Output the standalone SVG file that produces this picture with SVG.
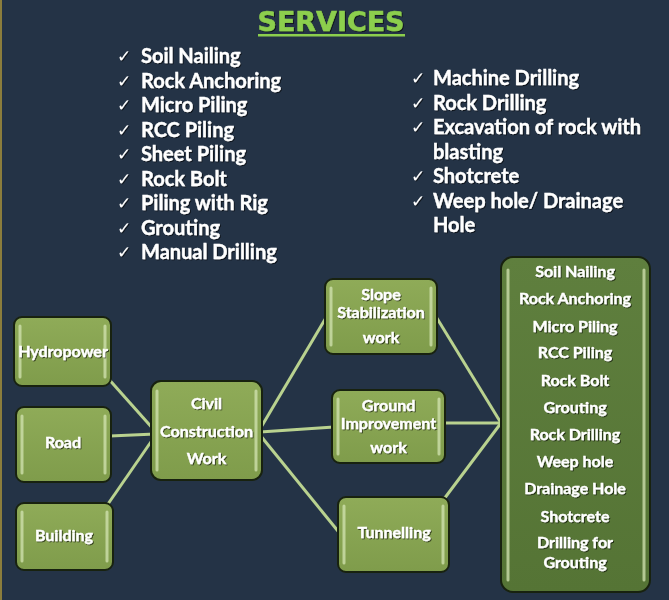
<svg xmlns="http://www.w3.org/2000/svg" width="669" height="600" viewBox="0 0 669 600">
<defs>
<style>
.bg{fill:#243346}
.t{font-family:Lato,"Open Sans","Liberation Sans",sans-serif;font-weight:bold;fill:#ffffff;stroke:#ffffff;stroke-width:0.35}
.li{font-size:20px}
.ck{font-family:"DejaVu Sans",sans-serif;font-size:17px;fill:#ffffff}
.nt{font-size:16px;text-anchor:middle}
.node{fill:url(#gl);stroke:#18220f;stroke-width:2}
.big{fill:url(#gd);stroke:#18220f;stroke-width:2}
.bar{stroke:#d3e4b2;stroke-width:3;stroke-linecap:round;opacity:0.75}
.con{stroke:#b9d28f;stroke-width:3;fill:none}
</style>
<linearGradient id="gl" x1="0" y1="0" x2="0" y2="1">
<stop offset="0" stop-color="#8fab58"/>
<stop offset="1" stop-color="#7f9c4b"/>
</linearGradient>
<linearGradient id="gd" x1="0" y1="0" x2="0" y2="1">
<stop offset="0" stop-color="#5f7f3e"/>
<stop offset="1" stop-color="#557435"/>
</linearGradient>
<filter id="sh" x="-10%" y="-20%" width="120%" height="140%">
<feDropShadow dx="1" dy="1" stdDeviation="0.6" flood-color="#000000" flood-opacity="0.6"/>
</filter>
</defs>
<rect class="bg" x="0" y="0" width="669" height="600"/>
<rect x="0" y="0" width="2" height="600" fill="#8b7d3c"/>

<g id="title">
<text x="331" y="31" font-family="'DejaVu Sans',Verdana,sans-serif" font-weight="bold" font-size="26" fill="#8ccf4d" stroke="#8ccf4d" stroke-width="0.5" text-anchor="middle" textLength="147" lengthAdjust="spacingAndGlyphs" filter="url(#sh)">SERVICES</text>
<rect x="258" y="34" width="147" height="2.5" fill="#8ccf4d"/>
</g>

<g id="services-left" filter="url(#sh)">
<text class="ck" x="117" y="62">✓</text><text class="t li" x="141" y="63">Soil Nailing</text>
<text class="ck" x="117" y="86.5">✓</text><text class="t li" x="141" y="87.5">Rock Anchoring</text>
<text class="ck" x="117" y="111">✓</text><text class="t li" x="141" y="112">Micro Piling</text>
<text class="ck" x="117" y="135.5">✓</text><text class="t li" x="141" y="136.5">RCC Piling</text>
<text class="ck" x="117" y="160">✓</text><text class="t li" x="141" y="161">Sheet Piling</text>
<text class="ck" x="117" y="184.5">✓</text><text class="t li" x="141" y="185.5">Rock Bolt</text>
<text class="ck" x="117" y="209">✓</text><text class="t li" x="141" y="210">Piling with Rig</text>
<text class="ck" x="117" y="233.5">✓</text><text class="t li" x="141" y="234.5">Grouting</text>
<text class="ck" x="117" y="258">✓</text><text class="t li" x="141" y="259">Manual Drilling</text>
</g>

<g id="services-right" filter="url(#sh)">
<text class="ck" x="411" y="84">✓</text><text class="t li" x="433" y="85">Machine Drilling</text>
<text class="ck" x="411" y="108.5">✓</text><text class="t li" x="433" y="109.5">Rock Drilling</text>
<text class="ck" x="411" y="133">✓</text><text class="t li" x="433" y="134">Excavation of rock with</text>
<text class="t li" x="433" y="158.5">blasting</text>
<text class="ck" x="411" y="182">✓</text><text class="t li" x="433" y="183">Shotcrete</text>
<text class="ck" x="411" y="206.5">✓</text><text class="t li" x="433" y="207.5">Weep hole/ Drainage</text>
<text class="t li" x="433" y="232">Hole</text>
</g>

<g id="connectors">
<line class="con" x1="106" y1="376" x2="155" y2="431"/>
<line class="con" x1="110" y1="436" x2="155" y2="434"/>
<line class="con" x1="108" y1="504" x2="155" y2="436"/>
<line class="con" x1="260" y1="429" x2="327" y2="316"/>
<line class="con" x1="260" y1="432" x2="334" y2="427"/>
<line class="con" x1="260" y1="435" x2="346" y2="541"/>
<line class="con" x1="435" y1="315" x2="501" y2="423"/>
<line class="con" x1="443" y1="423" x2="501" y2="423"/>
<line class="con" x1="444" y1="499" x2="501" y2="423"/>
</g>

<g id="hydropower">
<rect class="node" x="14" y="317" width="97" height="69" rx="8"/>
<line class="bar" x1="20" y1="326" x2="20" y2="377"/><line class="bar" x1="105" y1="326" x2="105" y2="377"/>
<text class="t nt" x="63" y="357" font-size="15" filter="url(#sh)">Hydropower</text>
</g>
<g id="road">
<rect class="node" x="16" y="407" width="95" height="75" rx="8"/>
<line class="bar" x1="22" y1="416" x2="22" y2="473"/><line class="bar" x1="105" y1="416" x2="105" y2="473"/>
<text class="t nt" x="63" y="448" filter="url(#sh)">Road</text>
</g>
<g id="building">
<rect class="node" x="16" y="503" width="97" height="67" rx="8"/>
<line class="bar" x1="22" y1="512" x2="22" y2="561"/><line class="bar" x1="107" y1="512" x2="107" y2="561"/>
<text class="t nt" x="64" y="541" filter="url(#sh)">Building</text>
</g>
<g id="civil">
<rect class="node" x="151" y="381" width="111" height="99" rx="10"/>
<line class="bar" x1="157" y1="391" x2="157" y2="470"/><line class="bar" x1="256" y1="391" x2="256" y2="470"/>
<text class="t nt" x="206.5" y="409" filter="url(#sh)">Civil</text>
<text class="t nt" x="206.5" y="437" filter="url(#sh)">Construction</text>
<text class="t nt" x="206.5" y="464" filter="url(#sh)">Work</text>
</g>
<g id="slope">
<rect class="node" x="325" y="279" width="112" height="75" rx="8"/>
<line class="bar" x1="331" y1="288" x2="331" y2="345"/><line class="bar" x1="431" y1="288" x2="431" y2="345"/>
<text class="t nt" x="381" y="300" font-size="15" filter="url(#sh)">Slope</text>
<text class="t nt" x="381" y="318" font-size="15" filter="url(#sh)">Stabilization</text>
<text class="t nt" x="381" y="343" font-size="15" filter="url(#sh)">work</text>
</g>
<g id="ground">
<rect class="node" x="332" y="390" width="113" height="73" rx="8"/>
<line class="bar" x1="338" y1="399" x2="338" y2="454"/><line class="bar" x1="439" y1="399" x2="439" y2="454"/>
<text class="t nt" x="388.5" y="411" font-size="15" filter="url(#sh)">Ground</text>
<text class="t nt" x="388.5" y="429" font-size="15" filter="url(#sh)">Improvement</text>
<text class="t nt" x="388.5" y="453" font-size="15" filter="url(#sh)">work</text>
</g>
<g id="tunnelling">
<rect class="node" x="338" y="497" width="111" height="75" rx="8"/>
<line class="bar" x1="344" y1="506" x2="344" y2="563"/><line class="bar" x1="443" y1="506" x2="443" y2="563"/>
<text class="t nt" x="394" y="538" font-size="15" filter="url(#sh)">Tunnelling</text>
</g>
<g id="methods">
<rect class="big" x="501" y="257" width="149" height="335" rx="12"/>
<line class="bar" x1="508" y1="270" x2="508" y2="580"/><line class="bar" x1="644" y1="270" x2="644" y2="580"/>
<g filter="url(#sh)">
<text class="t nt" x="575" y="277">Soil Nailing</text>
<text class="t nt" x="575" y="304">Rock Anchoring</text>
<text class="t nt" x="575" y="332">Micro Piling</text>
<text class="t nt" x="575" y="358">RCC Piling</text>
<text class="t nt" x="575" y="386">Rock Bolt</text>
<text class="t nt" x="575" y="413">Grouting</text>
<text class="t nt" x="575" y="440">Rock Drilling</text>
<text class="t nt" x="575" y="467">Weep hole</text>
<text class="t nt" x="575" y="494">Drainage Hole</text>
<text class="t nt" x="575" y="522">Shotcrete</text>
<text class="t nt" x="575" y="548">Drilling for</text>
<text class="t nt" x="575" y="568">Grouting</text>
</g>
</g>
</svg>
